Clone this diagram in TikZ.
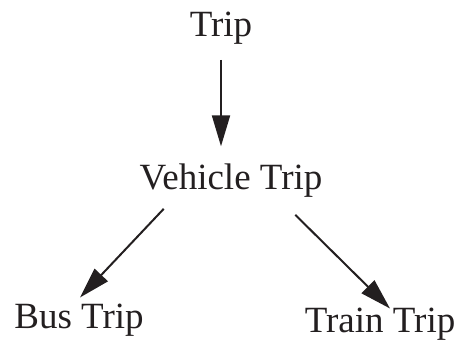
\documentclass[tikz,border=0pt]{standalone}
\usepackage{fontspec}
\setmainfont{Liberation Serif}
\usetikzlibrary{arrows.meta}
\definecolor{ink}{HTML}{231F20}
\begin{document}
\begin{tikzpicture}[x=1pt,y=1pt,
  label/.style={inner sep=0pt, outer sep=0pt, anchor=base, text=ink, font=\fontsize{37}{40}\selectfont},
  arr/.style={draw=ink, line width=2pt, -{Triangle[length=31pt,width=18pt]}}]
  \useasboundingbox (0,0) rectangle (462,350);
  \node[label] (trip)    at (221,313) {Trip};
  \node[label] (vehicle) at (231,160) {Vehicle Trip};
  \node[label] (bus)     at (79,22)   {Bus Trip};
  \node[label] (train)   at (380,17)  {Train Trip};
  % generalisation arrows
  \draw[arr] ([yshift=-15pt]trip.south) -- ([yshift=18pt]trip.south |- vehicle.north);
  \draw[arr] ([shift={(24pt,-11pt)}]vehicle.south west) -- ([shift={(1pt,6pt)}]bus.north);
  \draw[arr] ([shift={(-27pt,-17pt)}]vehicle.south east) -- ([shift={(10pt,0pt)}]train.north);
\end{tikzpicture}
\end{document}
